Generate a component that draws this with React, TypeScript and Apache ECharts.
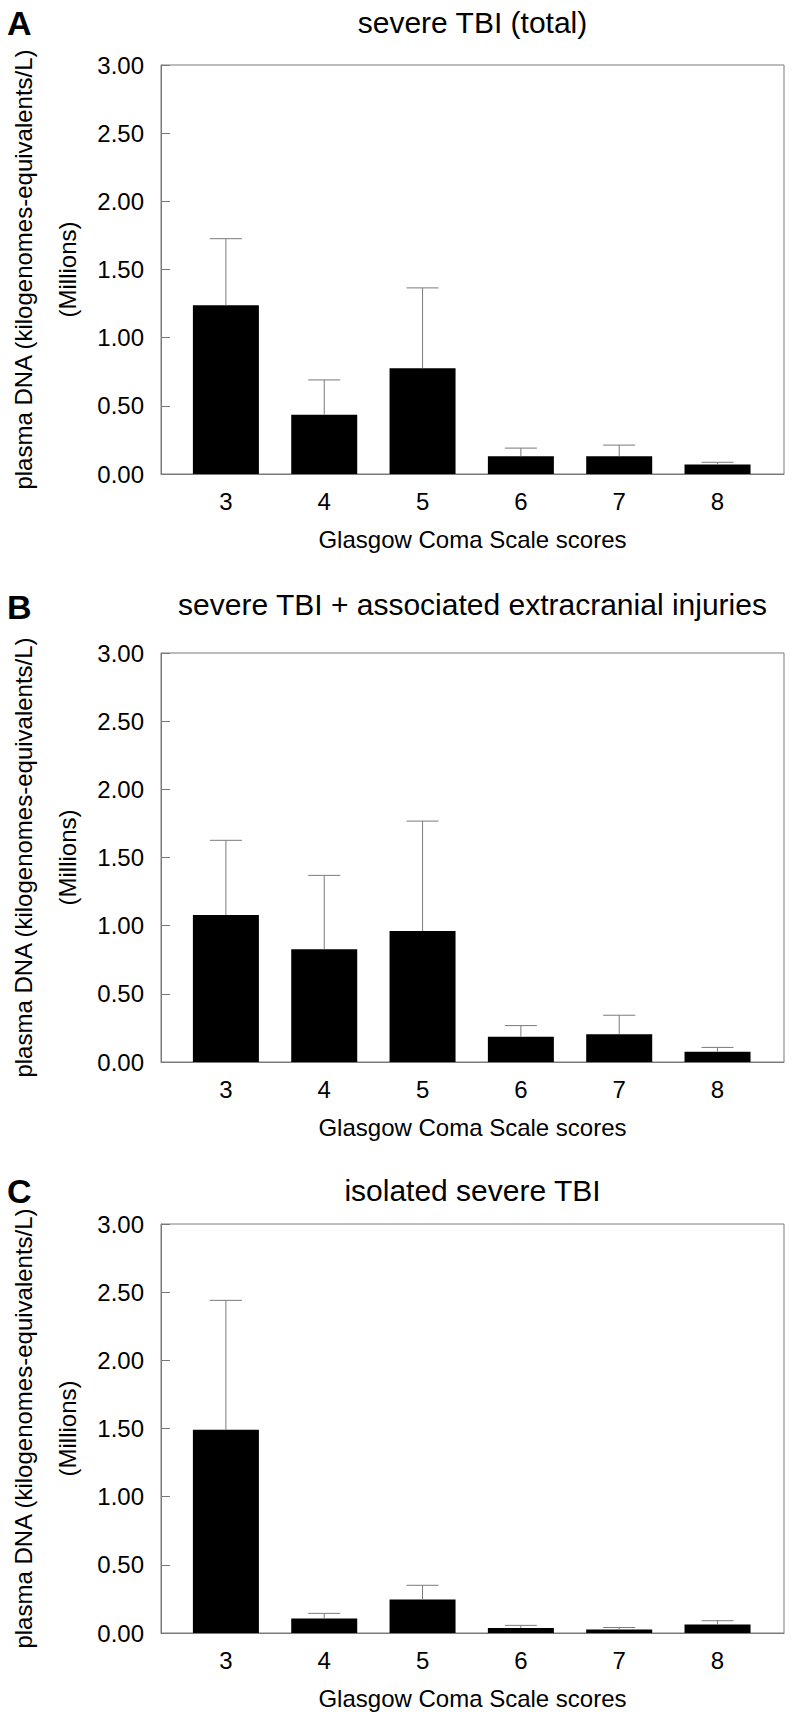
import React, { useEffect, useRef } from 'react';
import * as echarts from 'echarts';

// ---------- data ----------
const categories = [3, 4, 5, 6, 7, 8];
const panelLetters = ['A', 'B', 'C'];
const panelTitles = [
  'severe TBI (total)',
  'severe TBI + associated extracranial injuries',
  'isolated severe TBI',
];
// means (millions) and upper end of error bars (mean + SEM)
const meanTotal = [1.237, 0.435, 0.775, 0.13, 0.13, 0.07];
const upperTotal = [1.726, 0.69, 1.365, 0.19, 0.212, 0.086];
const meanAssociated = [1.078, 0.827, 0.961, 0.186, 0.204, 0.076];
const upperAssociated = [1.626, 1.369, 1.767, 0.267, 0.343, 0.107];
const meanIsolated = [1.49, 0.107, 0.246, 0.037, 0.025, 0.062];
const upperIsolated = [2.44, 0.144, 0.35, 0.056, 0.04, 0.09];
const xAxisName = 'Glasgow Coma Scale scores';
const yAxisNameLine1 = 'plasma DNA (kilogenomes-equivalents/L)';
const yAxisNameLine2 = '(Millions)';
const yMin = 0;
const yMax = 3;
const yInterval = 0.5;

// ---------- layout ----------
const FONT = 'Liberation Sans, Arial, Helvetica, sans-serif';
const GRID_LEFT = 161;
const GRID_WIDTH = 623;
const GRID_HEIGHT = 409;
const GRID_TOPS = [65, 653, 1224];
const TITLE_Y = [22, 604, 1190];
const LETTER_Y = [23, 607, 1191];
const GRAY = '#7a7a7a';

const means = [meanTotal, meanAssociated, meanIsolated];
const uppers = [upperTotal, upperAssociated, upperIsolated];

export default function App() {
  const ref = useRef<HTMLDivElement>(null);

  useEffect(() => {
    if (!ref.current) return;
    const chart = echarts.init(ref.current, undefined, { renderer: 'svg' });

    const grids: any[] = [];
    const xAxes: any[] = [];
    const yAxes: any[] = [];
    const series: any[] = [];
    const graphics: any[] = [];

    for (let p = 0; p < 3; p++) {
      grids.push({
        left: GRID_LEFT,
        top: GRID_TOPS[p],
        width: GRID_WIDTH,
        height: GRID_HEIGHT,
        show: true,
        borderColor: GRAY,
        borderWidth: 1,
        backgroundColor: 'transparent',
      });
      xAxes.push({
        gridIndex: p,
        type: 'value',
        min: 2.34,
        max: 8.676,
        axisLine: { show: true, lineStyle: { color: GRAY, width: 1 } },
        axisTick: { show: false },
        splitLine: { show: false },
        axisLabel: {
          customValues: categories,
          formatter: (v: number) => String(v),
          fontSize: 24,
          fontFamily: FONT,
          color: '#000',
          margin: 15,
        },
        name: xAxisName,
        nameLocation: 'middle',
        nameGap: 53,
        nameTextStyle: { fontSize: 24, fontFamily: FONT, color: '#000' },
      });
      yAxes.push({
        gridIndex: p,
        type: 'value',
        min: yMin,
        max: yMax,
        interval: yInterval,
        axisLine: { show: true, lineStyle: { color: GRAY, width: 1 } },
        axisTick: { show: true, inside: true, length: 9, lineStyle: { color: GRAY, width: 1 } },
        splitLine: { show: false },
        axisLabel: {
          formatter: (v: number) => v.toFixed(2),
          fontSize: 24,
          fontFamily: FONT,
          color: '#000',
          margin: 17,
        },
      });
      series.push({
        type: 'bar',
        xAxisIndex: p,
        yAxisIndex: p,
        barWidth: 66,
        itemStyle: { color: '#000' },
        data: categories.map((c, i) => [c, means[p][i]]),
        z: 2,
      });
      series.push({
        type: 'custom',
        xAxisIndex: p,
        yAxisIndex: p,
        z: 3,
        data: categories.map((c, i) => [c, means[p][i], uppers[p][i]]),
        renderItem: (params: any, api: any) => {
          const x = api.value(0);
          const lo = api.coord([x, api.value(1)]);
          const hi = api.coord([x, api.value(2)]);
          const style = { stroke: GRAY, lineWidth: 1 };
          return {
            type: 'group',
            children: [
              { type: 'line', shape: { x1: lo[0], y1: lo[1], x2: hi[0], y2: hi[1] }, style },
              { type: 'line', shape: { x1: hi[0] - 16, y1: hi[1], x2: hi[0] + 16, y2: hi[1] }, style },
            ],
          };
        },
      });

      const midY = GRID_TOPS[p] + GRID_HEIGHT / 2;
      graphics.push({
        type: 'text',
        x: 7,
        y: LETTER_Y[p],
        style: {
          text: panelLetters[p],
          fontSize: 34,
          fontWeight: 'bold',
          fontFamily: FONT,
          fill: '#000',
          align: 'left',
          verticalAlign: 'middle',
        },
      });
      graphics.push({
        type: 'text',
        x: GRID_LEFT + GRID_WIDTH / 2,
        y: TITLE_Y[p],
        style: {
          text: panelTitles[p],
          fontSize: 30,
          fontFamily: FONT,
          fill: '#000',
          align: 'center',
          verticalAlign: 'middle',
        },
      });
      graphics.push({
        type: 'text',
        x: 23,
        y: midY,
        rotation: Math.PI / 2,
        style: {
          text: yAxisNameLine1,
          fontSize: 24,
          fontFamily: FONT,
          fill: '#000',
          align: 'center',
          verticalAlign: 'middle',
        },
      });
      graphics.push({
        type: 'text',
        x: 67,
        y: midY,
        rotation: Math.PI / 2,
        style: {
          text: yAxisNameLine2,
          fontSize: 24,
          fontFamily: FONT,
          fill: '#000',
          align: 'center',
          verticalAlign: 'middle',
        },
      });
    }

    chart.setOption({
      animation: false,
      backgroundColor: '#fff',
      grid: grids,
      xAxis: xAxes,
      yAxis: yAxes,
      series,
      graphic: graphics,
    });

    return () => chart.dispose();
  }, []);

  return (
    <div
      ref={ref}
      style={{ position: 'absolute', left: 0, top: 0, width: 792, height: 1725, background: '#fff' }}
    />
  );
}
